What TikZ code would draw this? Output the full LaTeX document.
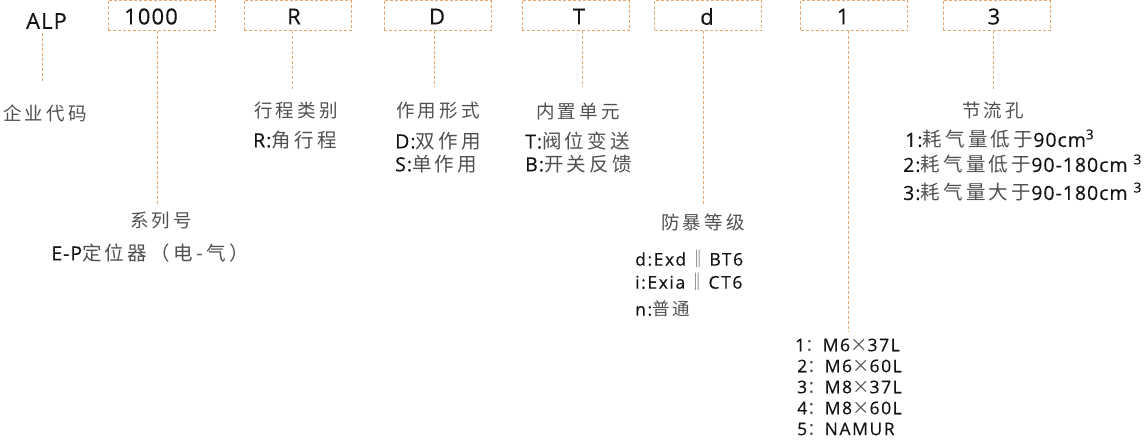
\documentclass[tikz,border=0pt]{standalone}
\usepackage{fontspec}
\setmainfont{Open Sans}[LetterSpace=5, FakeBold=0.3]
\newfontfamily\cjkf[LetterSpace=17]{Noto Sans CJK SC}
\definecolor{dashc}{RGB}{228,168,112}
\definecolor{txt}{RGB}{20,20,20}
\definecolor{cjkc}{RGB}{80,80,80}
\newcommand\cj[1]{{\cjkf\color{cjkc}#1}}
\begin{document}
\begin{tikzpicture}[x=1pt,y=-1pt,
  codebox/.style={draw=dashc, dash pattern=on 3pt off 2pt, line width=0.9pt, minimum width=107pt, minimum height=30pt, inner sep=0pt},
  conn/.style={draw=dashc, dash pattern=on 3pt off 2pt, line width=0.9pt},
  big/.style={font=\fontsize{22}{24}\selectfont, text=txt, inner sep=0pt},
  head/.style={font=\fontsize{18.5}{20}\selectfont, inner sep=0pt},
  item/.style={font=\fontsize{19.5}{20}\selectfont, text=txt, inner sep=0pt, anchor=west},
  small/.style={font=\fontsize{17.5}{18}\selectfont\addfontfeatures{LetterSpace=9}, text=txt, inner sep=0pt, anchor=west},
]
\useasboundingbox (0,0) rectangle (1145,439);
% code row
\node[big] (alp) at (46.5,21) {ALP};
\node[codebox] (b1) at (161.5,15.5) {};
\node[big] (t1) at (151,16.5) {1000};
\node[codebox] (bR) at (297.5,15.5) {};
\node[big] (tR) at (294,16.5) {R};
\node[codebox] (bD) at (437.5,15.5) {};
\node[big] (tD) at (437,16.5) {D};
\node[codebox] (bT) at (575.5,15.5) {};
\node[big] (tT) at (579,16.5) {T};
\node[codebox] (bd) at (708,15.5) {};
\node[big] (td) at (707,16.5) {d};
\node[codebox] (bn) at (854,15.5) {};
\node[big] (tn) at (843,16.5) {1};
\node[codebox] (b3) at (996.5,15.5) {};
\node[big] (t3) at (994,16.5) {3};
% connector ends
\coordinate (e0) at (42,83);
\coordinate (e1) at (157,205);
\coordinate (e2) at (292,90);
\coordinate (e3) at (434,87);
\coordinate (e4) at (582,87);
\coordinate (e5) at (703,205);
\coordinate (e6) at (848,331);
\coordinate (e7) at (993,90);
\draw[conn, shorten <=4pt] (alp.south -| e0) -- (e0);
\draw[conn] (b1.south -| e1) -- (e1);
\draw[conn] (bR.south -| e2) -- (e2);
\draw[conn] (bD.south -| e3) -- (e3);
\draw[conn] (bT.south -| e4) -- (e4);
\draw[conn] (bd.south -| e5) -- (e5);
\draw[conn] (bn.south -| e6) -- (e6);
\draw[conn] (b3.south -| e7) -- (e7);
% labels
\node[head] (h0) at (45,113) {\cj{企业代码}};
\node[head] (h1) at (161,221) {\cj{系列号}};
\node[item, anchor=center] (i1) at (150,253) {E-P\cj{定位器（电-气）}};
\node[head] (h2) at (296,110) {\cj{行程类别}};
\node[item] (i2) at (253,140) {R:\cj{角行程}};
\node[head] (h3) at (438,111) {\cj{作用形式}};
\node[item] (i3a) at (395,141) {D:\cj{双作用}};
\node[item] (i3b) at (395,164) {S:\cj{单作用}};
\node[head] (h4) at (578,111) {\cj{内置单元}};
\node[item] (i4a) at (525,141) {T:\cj{阀位变送}};
\node[item] (i4b) at (525,164) {B:\cj{开关反馈}};
\node[head] (h5) at (703,222) {\cj{防暴等级}};
\node[small] (i5a) at (635,259) {d:Exd\,{\cjkf\color{txt!70}‖}\,BT6};
\node[small] (i5b) at (635,282) {i:Exia\,{\cjkf\color{txt!70}‖}\,CT6};
\node[small] (i5c) at (635,309) {n:\cj{普通}};
\node[small] (i6a) at (795,345) {1\cj{：}M6\cj{×}37L};
\node[small] (i6b) at (797,366) {2\cj{：}M6\cj{×}60L};
\node[small] (i6c) at (797,387) {3\cj{：}M8\cj{×}37L};
\node[small] (i6d) at (797,408) {4\cj{：}M8\cj{×}60L};
\node[small] (i6e) at (797,429) {5\cj{：}NAMUR};
\node[head] (h7) at (993,110) {\cj{节流孔}};
\node[item] (i7a) at (905,139) {1:\cj{耗气量低于}90cm\textsuperscript{3}};
\node[item] (i7b) at (903,164) {2:\cj{耗气量低于}90-180cm \textsuperscript{3}};
\node[item] (i7c) at (903,192) {3:\cj{耗气量大于}90-180cm \textsuperscript{3}};
\end{tikzpicture}
\end{document}
